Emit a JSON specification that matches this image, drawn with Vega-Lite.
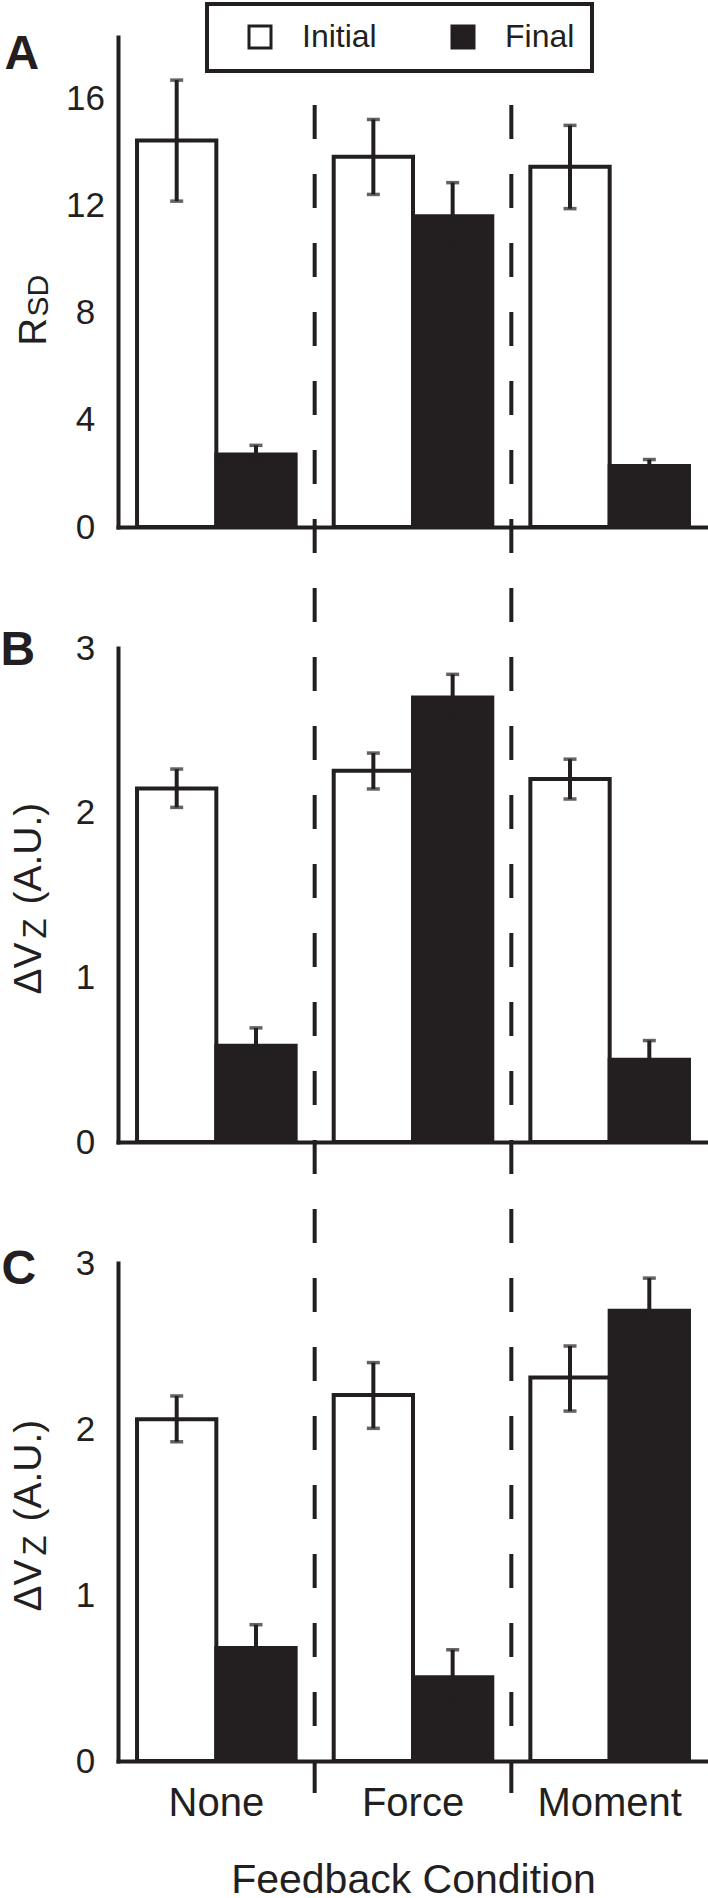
{
  "$schema": "https://vega.github.io/schema/vega-lite/v6.json",
  "autosize": {"type": "pad"},
  "padding": {"left": 0, "top": 2, "right": 0, "bottom": 0},
  "background": "white",
  "datasets": {
    "bars": [
      {"panel": "A", "cond": "None", "phase": "Initial", "value": 14.43, "lo": 12.17, "hi": 16.69},
      {"panel": "A", "cond": "None", "phase": "Final", "value": 2.71, "lo": 2.37, "hi": 3.05},
      {"panel": "A", "cond": "Force", "phase": "Initial", "value": 13.83, "lo": 12.42, "hi": 15.22},
      {"panel": "A", "cond": "Force", "phase": "Final", "value": 11.61, "lo": 10.36, "hi": 12.86},
      {"panel": "A", "cond": "Moment", "phase": "Initial", "value": 13.45, "lo": 11.89, "hi": 15.0},
      {"panel": "A", "cond": "Moment", "phase": "Final", "value": 2.28, "lo": 2.04, "hi": 2.52},
      {"panel": "B", "cond": "None", "phase": "Initial", "value": 2.147, "lo": 2.032, "hi": 2.265},
      {"panel": "B", "cond": "None", "phase": "Final", "value": 0.584, "lo": 0.475, "hi": 0.693},
      {"panel": "B", "cond": "Force", "phase": "Initial", "value": 2.255, "lo": 2.144, "hi": 2.362},
      {"panel": "B", "cond": "Force", "phase": "Final", "value": 2.699, "lo": 2.56, "hi": 2.84},
      {"panel": "B", "cond": "Moment", "phase": "Initial", "value": 2.204, "lo": 2.083, "hi": 2.325},
      {"panel": "B", "cond": "Moment", "phase": "Final", "value": 0.5, "lo": 0.385, "hi": 0.616},
      {"panel": "C", "cond": "None", "phase": "Initial", "value": 2.058, "lo": 1.923, "hi": 2.199},
      {"panel": "C", "cond": "None", "phase": "Final", "value": 0.68, "lo": 0.54, "hi": 0.821},
      {"panel": "C", "cond": "Force", "phase": "Initial", "value": 2.205, "lo": 2.004, "hi": 2.4},
      {"panel": "C", "cond": "Force", "phase": "Final", "value": 0.505, "lo": 0.34, "hi": 0.67},
      {"panel": "C", "cond": "Moment", "phase": "Initial", "value": 2.31, "lo": 2.108, "hi": 2.5},
      {"panel": "C", "cond": "Moment", "phase": "Final", "value": 2.712, "lo": 2.515, "hi": 2.909}
    ],
    "seps": [
      {"cond": "Force"},
      {"cond": "Moment"}
    ]
  },
  "spacing": 121,
  "bounds": "flush",
  "resolve": {"scale": {"fill": "independent"}, "legend": {"fill": "independent"}},
  "vconcat": [
    {
      "width": 590,
      "height": 490,
      "resolve": {"axis": {"y": "independent"}},
      "layer": [
        {
          "data": {"name": "bars"},
          "transform": [{"filter": "datum.panel === 'A'"}],
          "mark": {"type": "bar", "stroke": "#231f20", "strokeWidth": 4},
          "encoding": {
            "x": {"field": "cond", "type": "nominal", "scale": {"domain": ["None", "Force", "Moment"], "paddingInner": 0, "paddingOuter": 0}, "axis": {"orient": "bottom", "domain": true, "labels": false, "ticks": false, "title": null}},
            "xOffset": {"field": "phase", "type": "nominal", "scale": {"domain": ["Initial", "Final"], "paddingInner": 0, "paddingOuter": 0.24}},
            "y": {"field": "value", "type": "quantitative", "scale": {"domain": [0, 18.3], "nice": false},
              "axis": {"orient": "left", "values": [0, 4, 8, 12, 16], "labelPadding": 33, "labelAlign": "center", "labelBaseline": "middle", "labelFontSize": 35,
                "title": "R", "titleX": -73, "titleY": 308, "titleAngle": -90, "titleAlign": "left", "titleBaseline": "alphabetic", "titleFontSize": 38}},
            "fill": {"field": "phase", "type": "nominal", "scale": {"domain": ["Initial", "Final"], "range": ["#ffffff", "#231f20"]},
              "legend": {"orient": "none", "legendX": 89, "legendY": -33, "direction": "horizontal", "title": null,
                "symbolType": "square", "symbolSize": 484, "symbolStrokeColor": "#231f20", "symbolStrokeWidth": 3,
                "labelFontSize": 32, "labelColor": "#231f20", "labelOffset": 26, "columnPadding": 50, "padding": 17,
                "strokeColor": "#231f20", "symbolOffset": 20,
                "encode": {"legend": {"update": {"strokeWidth": {"value": 4}}}}}}
          }
        },
        {
          "data": {"name": "bars"},
          "transform": [{"filter": "datum.panel === 'A'"}],
          "mark": {"type": "rule", "color": "#231f20", "strokeWidth": 4},
          "encoding": {
            "x": {"field": "cond", "type": "nominal", "scale": {"domain": ["None", "Force", "Moment"], "paddingInner": 0, "paddingOuter": 0}, "axis": {"orient": "bottom", "domain": true, "labels": false, "ticks": false, "title": null}},
            "xOffset": {"field": "phase", "type": "nominal", "scale": {"domain": ["Initial", "Final"], "paddingInner": 0, "paddingOuter": 0.24}},
            "y": {"field": "lo", "type": "quantitative", "scale": {"domain": [0, 18.3], "nice": false},
              "axis": {"orient": "left", "domain": false, "labels": false, "ticks": false, "grid": false,
                "title": "SD", "titleX": -71, "titleY": 279, "titleAngle": -90, "titleAlign": "left", "titleBaseline": "alphabetic", "titleFontSize": 30}},
            "y2": {"field": "hi"}
          }
        },
        {
          "data": {"name": "bars"},
          "transform": [{"filter": "datum.panel === 'A'"}],
          "mark": {"type": "tick", "color": "#231f20", "thickness": 3.5, "size": 13},
          "encoding": {
            "x": {"field": "cond", "type": "nominal", "scale": {"domain": ["None", "Force", "Moment"], "paddingInner": 0, "paddingOuter": 0}, "axis": {"orient": "bottom", "domain": true, "labels": false, "ticks": false, "title": null}},
            "xOffset": {"field": "phase", "type": "nominal", "scale": {"domain": ["Initial", "Final"], "paddingInner": 0, "paddingOuter": 0.24}},
            "y": {"field": "hi", "type": "quantitative", "scale": {"domain": [0, 18.3], "nice": false},
              "axis": {"orient": "left", "domain": false, "labels": false, "ticks": false, "grid": false,
                "title": "A", "titleX": -114, "titleY": 31, "titleAngle": 0, "titleAlign": "left", "titleBaseline": "alphabetic", "titleFontSize": 48, "titleFontWeight": "bold"}}
          }
        },
        {
          "data": {"name": "bars"},
          "transform": [{"filter": "datum.panel === 'A'"}],
          "mark": {"type": "tick", "color": "#231f20", "thickness": 3.5, "size": 13},
          "encoding": {
            "x": {"field": "cond", "type": "nominal", "scale": {"domain": ["None", "Force", "Moment"], "paddingInner": 0, "paddingOuter": 0}, "axis": {"orient": "bottom", "domain": true, "labels": false, "ticks": false, "title": null}},
            "xOffset": {"field": "phase", "type": "nominal", "scale": {"domain": ["Initial", "Final"], "paddingInner": 0, "paddingOuter": 0.24}},
            "y": {"field": "lo", "type": "quantitative", "scale": {"domain": [0, 18.3], "nice": false}, "axis": null}
          }
        },
        {
          "data": {"name": "seps"},
          "mark": {"type": "rule", "color": "#231f20", "strokeWidth": 4, "strokeDash": [34, 35]},
          "encoding": {
            "x": {"field": "cond", "type": "nominal", "bandPosition": 0, "scale": {"domain": ["None", "Force", "Moment"], "paddingInner": 0, "paddingOuter": 0}, "axis": {"orient": "bottom", "domain": true, "labels": false, "ticks": false, "title": null}},
            "y": {"datum": 15.76, "type": "quantitative", "scale": {"domain": [0, 18.3], "nice": false}, "axis": null},
            "y2": {"datum": -47.28}
          }
        }
      ]
    },
    {
      "width": 590,
      "height": 494,
      "resolve": {"axis": {"y": "independent"}},
      "data": {"name": "bars"},
      "transform": [{"filter": "datum.panel === 'B'"}],
      "layer": [
        {
          "mark": {"type": "bar", "stroke": "#231f20", "strokeWidth": 4},
          "encoding": {
            "x": {"field": "cond", "type": "nominal", "scale": {"domain": ["None", "Force", "Moment"], "paddingInner": 0, "paddingOuter": 0}, "axis": {"orient": "bottom", "domain": true, "labels": false, "ticks": false, "title": null}},
            "xOffset": {"field": "phase", "type": "nominal", "scale": {"domain": ["Initial", "Final"], "paddingInner": 0, "paddingOuter": 0.24}},
            "y": {"field": "value", "type": "quantitative", "scale": {"domain": [0, 3], "nice": false},
              "axis": {"orient": "left", "values": [0, 1, 2, 3], "labelPadding": 33, "labelAlign": "center", "labelBaseline": "middle", "labelFontSize": 35,
                "title": "ΔV", "titleX": -78, "titleY": 346, "titleAngle": -90, "titleAlign": "left", "titleBaseline": "alphabetic", "titleFontSize": 39}},
            "fill": {"field": "phase", "type": "nominal", "scale": {"domain": ["Initial", "Final"], "range": ["#ffffff", "#231f20"]}, "legend": null}
          }
        },
        {
          "mark": {"type": "rule", "color": "#231f20", "strokeWidth": 4},
          "encoding": {
            "x": {"field": "cond", "type": "nominal", "scale": {"domain": ["None", "Force", "Moment"], "paddingInner": 0, "paddingOuter": 0}, "axis": {"orient": "bottom", "domain": true, "labels": false, "ticks": false, "title": null}},
            "xOffset": {"field": "phase", "type": "nominal", "scale": {"domain": ["Initial", "Final"], "paddingInner": 0, "paddingOuter": 0.24}},
            "y": {"field": "lo", "type": "quantitative", "scale": {"domain": [0, 3], "nice": false},
              "axis": {"orient": "left", "domain": false, "labels": false, "ticks": false, "grid": false,
                "title": "Z", "titleX": -73, "titleY": 290, "titleAngle": -90, "titleAlign": "left", "titleBaseline": "alphabetic", "titleFontSize": 33}},
            "y2": {"field": "hi"}
          }
        },
        {
          "mark": {"type": "tick", "color": "#231f20", "thickness": 3.5, "size": 13},
          "encoding": {
            "x": {"field": "cond", "type": "nominal", "scale": {"domain": ["None", "Force", "Moment"], "paddingInner": 0, "paddingOuter": 0}, "axis": {"orient": "bottom", "domain": true, "labels": false, "ticks": false, "title": null}},
            "xOffset": {"field": "phase", "type": "nominal", "scale": {"domain": ["Initial", "Final"], "paddingInner": 0, "paddingOuter": 0.24}},
            "y": {"field": "hi", "type": "quantitative", "scale": {"domain": [0, 3], "nice": false},
              "axis": {"orient": "left", "domain": false, "labels": false, "ticks": false, "grid": false,
                "title": "(A.U.)", "titleX": -78, "titleY": 256, "titleAngle": -90, "titleAlign": "left", "titleBaseline": "alphabetic", "titleFontSize": 39}}
          }
        },
        {
          "mark": {"type": "tick", "color": "#231f20", "thickness": 3.5, "size": 13},
          "encoding": {
            "x": {"field": "cond", "type": "nominal", "scale": {"domain": ["None", "Force", "Moment"], "paddingInner": 0, "paddingOuter": 0}, "axis": {"orient": "bottom", "domain": true, "labels": false, "ticks": false, "title": null}},
            "xOffset": {"field": "phase", "type": "nominal", "scale": {"domain": ["Initial", "Final"], "paddingInner": 0, "paddingOuter": 0.24}},
            "y": {"field": "lo", "type": "quantitative", "scale": {"domain": [0, 3], "nice": false},
              "axis": {"orient": "left", "domain": false, "labels": false, "ticks": false, "grid": false,
                "title": "B", "titleX": -118, "titleY": 16, "titleAngle": 0, "titleAlign": "left", "titleBaseline": "alphabetic", "titleFontSize": 48, "titleFontWeight": "bold"}}
          }
        }
      ]
    },
    {
      "width": 590,
      "height": 498,
      "resolve": {"axis": {"y": "independent"}},
      "data": {"name": "bars"},
      "transform": [{"filter": "datum.panel === 'C'"}],
      "layer": [
        {
          "mark": {"type": "bar", "stroke": "#231f20", "strokeWidth": 4},
          "encoding": {
            "x": {"field": "cond", "type": "nominal", "scale": {"domain": ["None", "Force", "Moment"], "paddingInner": 0, "paddingOuter": 0}, "axis": {"orient": "bottom", "domain": true, "labels": true, "ticks": false, "labelPadding": 22, "labelFontSize": 40, "labelAngle": 0, "title": "Feedback Condition", "titleFontSize": 41, "titleY": 131, "titleBaseline": "alphabetic"}},
            "xOffset": {"field": "phase", "type": "nominal", "scale": {"domain": ["Initial", "Final"], "paddingInner": 0, "paddingOuter": 0.24}},
            "y": {"field": "value", "type": "quantitative", "scale": {"domain": [0, 3], "nice": false},
              "axis": {"orient": "left", "values": [0, 1, 2, 3], "labelPadding": 33, "labelAlign": "center", "labelBaseline": "middle", "labelFontSize": 35,
                "title": "ΔV", "titleX": -78, "titleY": 348, "titleAngle": -90, "titleAlign": "left", "titleBaseline": "alphabetic", "titleFontSize": 39}},
            "fill": {"field": "phase", "type": "nominal", "scale": {"domain": ["Initial", "Final"], "range": ["#ffffff", "#231f20"]}, "legend": null}
          }
        },
        {
          "mark": {"type": "rule", "color": "#231f20", "strokeWidth": 4},
          "encoding": {
            "x": {"field": "cond", "type": "nominal", "scale": {"domain": ["None", "Force", "Moment"], "paddingInner": 0, "paddingOuter": 0}, "axis": {"orient": "bottom", "domain": true, "labels": true, "ticks": false, "labelPadding": 22, "labelFontSize": 40, "labelAngle": 0, "title": "Feedback Condition", "titleFontSize": 41, "titleY": 131, "titleBaseline": "alphabetic"}},
            "xOffset": {"field": "phase", "type": "nominal", "scale": {"domain": ["Initial", "Final"], "paddingInner": 0, "paddingOuter": 0.24}},
            "y": {"field": "lo", "type": "quantitative", "scale": {"domain": [0, 3], "nice": false},
              "axis": {"orient": "left", "domain": false, "labels": false, "ticks": false, "grid": false,
                "title": "Z", "titleX": -73, "titleY": 292, "titleAngle": -90, "titleAlign": "left", "titleBaseline": "alphabetic", "titleFontSize": 33}},
            "y2": {"field": "hi"}
          }
        },
        {
          "mark": {"type": "tick", "color": "#231f20", "thickness": 3.5, "size": 13},
          "encoding": {
            "x": {"field": "cond", "type": "nominal", "scale": {"domain": ["None", "Force", "Moment"], "paddingInner": 0, "paddingOuter": 0}, "axis": {"orient": "bottom", "domain": true, "labels": true, "ticks": false, "labelPadding": 22, "labelFontSize": 40, "labelAngle": 0, "title": "Feedback Condition", "titleFontSize": 41, "titleY": 131, "titleBaseline": "alphabetic"}},
            "xOffset": {"field": "phase", "type": "nominal", "scale": {"domain": ["Initial", "Final"], "paddingInner": 0, "paddingOuter": 0.24}},
            "y": {"field": "hi", "type": "quantitative", "scale": {"domain": [0, 3], "nice": false},
              "axis": {"orient": "left", "domain": false, "labels": false, "ticks": false, "grid": false,
                "title": "(A.U.)", "titleX": -78, "titleY": 258, "titleAngle": -90, "titleAlign": "left", "titleBaseline": "alphabetic", "titleFontSize": 39}}
          }
        },
        {
          "mark": {"type": "tick", "color": "#231f20", "thickness": 3.5, "size": 13},
          "encoding": {
            "x": {"field": "cond", "type": "nominal", "scale": {"domain": ["None", "Force", "Moment"], "paddingInner": 0, "paddingOuter": 0}, "axis": {"orient": "bottom", "domain": true, "labels": true, "ticks": false, "labelPadding": 22, "labelFontSize": 40, "labelAngle": 0, "title": "Feedback Condition", "titleFontSize": 41, "titleY": 131, "titleBaseline": "alphabetic"}},
            "xOffset": {"field": "phase", "type": "nominal", "scale": {"domain": ["Initial", "Final"], "paddingInner": 0, "paddingOuter": 0.24}},
            "y": {"field": "lo", "type": "quantitative", "scale": {"domain": [0, 3], "nice": false},
              "axis": {"orient": "left", "domain": false, "labels": false, "ticks": false, "grid": false,
                "title": "C", "titleX": -117, "titleY": 20, "titleAngle": 0, "titleAlign": "left", "titleBaseline": "alphabetic", "titleFontSize": 48, "titleFontWeight": "bold"}}
          }
        }
      ]
    }
  ],
  "config": {
    "font": "Liberation Sans",
    "view": {"stroke": null},
    "axis": {
      "labelFont": "Liberation Sans", "titleFont": "Liberation Sans",
      "labelColor": "#231f20", "titleColor": "#231f20",
      "domainColor": "#231f20", "domainWidth": 4, "domainCap": "square",
      "grid": false, "ticks": false, "tickSize": 0, "titleFontWeight": "normal", "titlePadding": 0
    },
    "legend": {"labelFont": "Liberation Sans"}
  }
}
